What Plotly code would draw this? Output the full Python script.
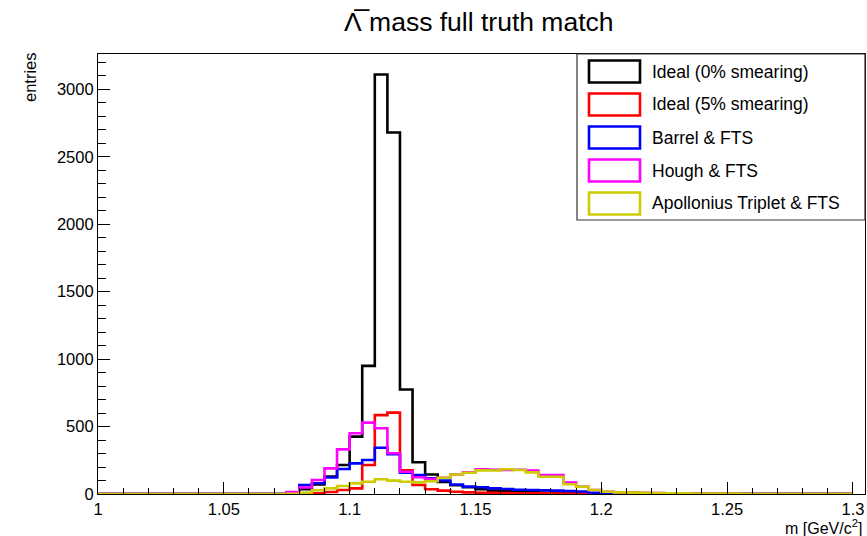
import numpy as np
import plotly.graph_objects as go

# Invariant-mass histograms, 60 bins of 5 MeV from 1.000 to 1.300 GeV/c^2
bin_low = 1.0
bin_width = 0.005
n_bins = 60

ideal_0 = [0, 0, 0, 0, 0, 0, 0, 0, 0, 0, 0, 0, 0, 0, 0,
           3, 35, 70, 130, 215, 425, 950, 3110, 2680, 775,
           235, 145, 90, 65, 50, 35, 25, 20, 15, 12,
           10, 8, 6, 5, 3, 2, 1, 1, 0, 0,
           0, 0, 0, 0, 0, 0, 0, 0, 0, 0, 0, 0, 0, 0, 0]

ideal_5 = [0, 0, 0, 0, 0, 0, 0, 0, 0, 0, 0, 0, 0, 0, 0,
           0, 2, 5, 15, 30, 42, 215, 585, 603, 175,
           67, 35, 25, 17, 12, 9, 8, 7, 6, 5,
           5, 4, 4, 3, 3, 2, 2, 1, 1, 0,
           0, 0, 0, 0, 0, 0, 0, 0, 0, 0, 0, 0, 0, 0, 0]

barrel_fts = [0, 0, 0, 0, 0, 0, 0, 0, 0, 0, 0, 0, 0, 0, 0,
              12, 67, 80, 122, 185, 227, 252, 343, 295, 158,
              141, 116, 100, 70, 55, 50, 42, 37, 32, 30,
              28, 25, 22, 18, 8, 5, 4, 3, 3, 2,
              2, 2, 1, 1, 1, 1, 1, 1, 1, 1, 1, 1, 1, 1, 1]

hough_fts = [0, 0, 0, 0, 0, 0, 0, 0, 0, 0, 0, 0, 0, 0, 0,
             15, 49, 104, 190, 331, 450, 529, 487, 302, 165,
             124, 110, 120, 145, 160, 183, 180, 178, 180, 173,
             141, 141, 84, 54, 30, 17, 12, 10, 8, 7,
             6, 5, 4, 4, 3, 3, 2, 2, 2, 2, 1, 1, 1, 1, 1]

apollonius_fts = [0, 0, 0, 0, 0, 0, 0, 0, 0, 0, 0, 0, 0, 0, 0,
                  2, 8, 28, 42, 59, 79, 91, 109, 99, 91,
                  86, 95, 120, 145, 158, 175, 174, 183, 178, 160,
                  128, 128, 72, 54, 30, 17, 12, 10, 8, 7,
                  6, 5, 4, 3, 3, 3, 2, 2, 2, 1, 1, 1, 1, 1, 1]

series_names = ["Ideal (0% smearing)", "Ideal (5% smearing)", "Barrel & FTS",
                "Hough & FTS", "Apollonius Triplet & FTS"]
series_values = [ideal_0, ideal_5, barrel_fts, hough_fts, apollonius_fts]
series_colors = ["#000000", "#ff0000", "#0000ff", "#ff00ff", "#cccc00"]

x_range = [1.0, 1.3048]
y_range = [0, 3262]
y_ticks = [0, 500, 1000, 1500, 2000, 2500, 3000]

edges = np.round(bin_low + bin_width * np.arange(n_bins + 1), 4)

fig = go.Figure()
for name, vals, col in zip(series_names, series_values, series_colors):
    y = list(vals) + [vals[-1]]
    fig.add_trace(go.Scatter(
        x=edges, y=y, mode="lines", name=name,
        line=dict(color=col, width=2.6, shape="hv"),
        showlegend=False, hoverinfo="skip"))

# Figure geometry (pixels)
W, H = 867, 536
L, R, T, B = 98, 2, 54, 42
pw, ph = W - L - R, H - T - B


def px(xp):
    return (xp - L) / pw


def py(yp):
    return (H - B - yp) / ph


font_family = "Liberation Sans, Arial, Helvetica, sans-serif"
shapes = []
annotations = []

# Legend box
shapes.append(dict(type="rect", xref="paper", yref="paper",
                   x0=px(577), x1=1.0, y0=py(220), y1=1.0,
                   line=dict(color="#333333", width=1.2),
                   fillcolor="white", layer="above"))
for i, (name, col) in enumerate(zip(series_names, series_colors)):
    yc = 71.5 + 33.0 * i
    shapes.append(dict(type="rect", xref="paper", yref="paper",
                       x0=px(589), x1=px(640), y0=py(yc + 11), y1=py(yc - 11),
                       line=dict(color=col, width=2.6),
                       fillcolor="rgba(0,0,0,0)", layer="above"))
    annotations.append(dict(xref="paper", yref="paper", x=px(650), y=py(yc),
                            text=name, showarrow=False, xanchor="left",
                            yanchor="middle",
                            font=dict(family=font_family, size=17.5, color="black")))

# Title, axis titles
annotations.append(dict(xref="paper", yref="paper", x=px(479), y=py(22),
                        text="\u039b\u0305 mass full truth match", showarrow=False,
                        xanchor="center", yanchor="middle",
                        font=dict(family=font_family, size=26.5, color="black")))
annotations.append(dict(xref="paper", yref="paper", x=px(30), y=py(77),
                        text="entries", showarrow=False, textangle=-90,
                        xanchor="center", yanchor="middle",
                        font=dict(family=font_family, size=16.5, color="black")))
annotations.append(dict(xref="paper", yref="paper", x=px(864), y=py(526.5),
                        text="m [GeV/c<sup>2</sup>]", showarrow=False,
                        xanchor="right", yanchor="middle",
                        font=dict(family=font_family, size=16, color="black")))

fig.update_layout(
    width=W, height=H,
    margin=dict(l=L, r=R, t=T, b=B, pad=0),
    paper_bgcolor="white", plot_bgcolor="white",
    showlegend=False,
    shapes=shapes, annotations=annotations,
    font=dict(family=font_family, size=16, color="black"),
)
fig.update_xaxes(
    range=x_range, tick0=1.0, dtick=0.05, ticks="inside", ticklen=12,
    tickcolor="black", tickwidth=1.2,
    minor=dict(dtick=0.01, ticks="inside", ticklen=6, tickcolor="black", tickwidth=1.2),
    showline=True, linecolor="black", linewidth=1.2, mirror=True,
    showgrid=False, zeroline=False,
    tickfont=dict(family=font_family, size=16.5, color="black"),
)
fig.update_yaxes(
    range=y_range, tickvals=y_ticks, ticks="inside", ticklen=12,
    tickcolor="black", tickwidth=1.2,
    minor=dict(dtick=100, ticks="inside", ticklen=8, tickcolor="black", tickwidth=1.2),
    showline=True, linecolor="black", linewidth=1.2, mirror=True,
    showgrid=False, zeroline=False,
    tickfont=dict(family=font_family, size=16.5, color="black"),
)

fig.write_html("out.html")
